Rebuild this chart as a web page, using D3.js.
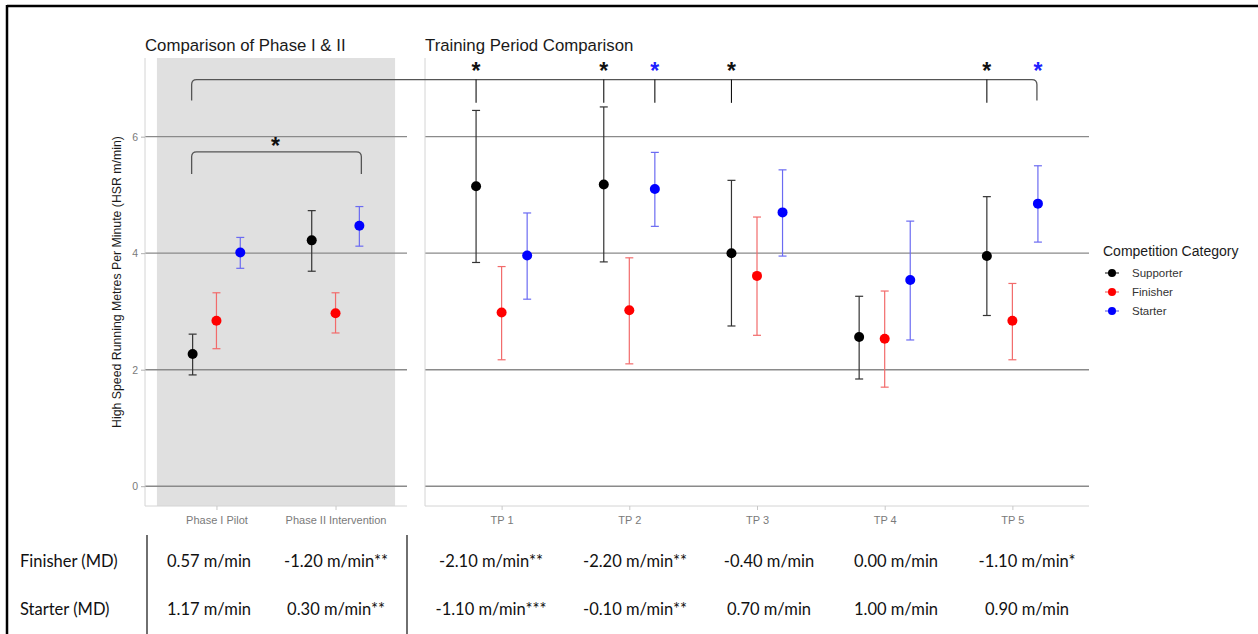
<!DOCTYPE html>
<html>
<head>
<meta charset="utf-8">
<script src="https://cdn.jsdelivr.net/npm/d3@7"></script>
<style>
html,body{margin:0;padding:0;background:#fff;}
svg{display:block;}
</style>
</head>
<body>
<svg id="chart" width="1258" height="634"></svg>
<script>
// ---------- DATA ----------
const phaseCats = ["Phase I Pilot", "Phase II Intervention"];
const tpCats = ["TP 1", "TP 2", "TP 3", "TP 4", "TP 5"];
const seriesNames = ["Supporter", "Finisher", "Starter"];
const seriesColors = ["#000000", "#ff0000", "#0000ff"];
const barColors = ["#333333", "#f26b6b", "#6b6bf2"];

// values over [Phase I, Phase II, TP1..TP5]
const supporterMean = [2.27, 4.22, 5.15, 5.18, 4.00, 2.56, 3.95];
const supporterLow  = [1.91, 3.69, 3.84, 3.85, 2.75, 1.84, 2.93];
const supporterHigh = [2.61, 4.73, 6.45, 6.51, 5.25, 3.26, 4.97];
const finisherMean  = [2.84, 2.97, 2.98, 3.02, 3.61, 2.53, 2.84];
const finisherLow   = [2.36, 2.63, 2.17, 2.10, 2.59, 1.70, 2.17];
const finisherHigh  = [3.32, 3.32, 3.77, 3.92, 4.62, 3.35, 3.48];
const starterMean   = [4.01, 4.47, 3.96, 5.10, 4.70, 3.54, 4.85];
const starterLow    = [3.74, 4.12, 3.21, 4.46, 3.95, 2.51, 4.19];
const starterHigh   = [4.27, 4.80, 4.69, 5.73, 5.43, 4.55, 5.50];

const yTicks = [0, 2, 4, 6];

// significance marks in the training-period panel: [category, series]
const sigMarks = [["TP 1", "Supporter"], ["TP 2", "Supporter"], ["TP 2", "Starter"],
                  ["TP 3", "Supporter"], ["TP 5", "Supporter"], ["TP 5", "Starter"]];

// table below the chart
const tableRows = ["Finisher (MD)", "Starter (MD)"];
const finisherMD = ["0.57 m/min", "-1.20 m/min**", "-2.10 m/min**", "-2.20 m/min**", "-0.40 m/min", "0.00 m/min", "-1.10 m/min*"];
const starterMD  = ["1.17 m/min", "0.30 m/min**", "-1.10 m/min***", "-0.10 m/min**", "0.70 m/min", "1.00 m/min", "0.90 m/min"];

// ---------- DRAW ----------
const svg = d3.select("#chart");
const font = "'Liberation Sans', Arial, sans-serif";

// frame
svg.append("line").attr("x1", 7).attr("x2", 1258).attr("y1", 6).attr("y2", 6).attr("stroke", "#000").attr("stroke-width", 2.5);
svg.append("line").attr("x1", 7).attr("x2", 7).attr("y1", 5).attr("y2", 634).attr("stroke", "#000").attr("stroke-width", 2.5);

const panelTop = 58, panelBottom = 506;
const y = d3.scaleLinear().domain([-0.34, 7.35]).range([panelBottom, panelTop]);

const xL = d3.scalePoint().domain(phaseCats).range([145, 407]).padding(0.6);
const xR = d3.scalePoint().domain(tpCats).range([425, 1089]).padding(0.6);
const dodgeL = xL.step() * 0.2, dodgeR = xR.step() * 0.2;

const allMeans = [supporterMean, finisherMean, starterMean];
const allLows = [supporterLow, finisherLow, starterLow];
const allHighs = [supporterHigh, finisherHigh, starterHigh];

function panel(x, cats, offset, dodge, shaded, title, showYLabels) {
  const [x0, x1] = x.range();
  const g = svg.append("g");
  if (shaded) {
    g.append("rect")
      .attr("x", x(cats[0]) - x.step() / 2)
      .attr("width", x(cats[cats.length - 1]) - x(cats[0]) + x.step())
      .attr("y", panelTop).attr("height", panelBottom - panelTop)
      .attr("fill", "#e0e0e0");
  }
  // gridlines
  g.selectAll(".grid").data(yTicks).join("line")
    .attr("x1", x0).attr("x2", x1)
    .attr("y1", d => y(d)).attr("y2", d => y(d))
    .attr("stroke", "#8a8a8a").attr("stroke-width", 1.4);
  // axes
  const ya = g.append("g").attr("transform", `translate(${x0},0)`)
    .call(d3.axisLeft(y).tickValues(yTicks).tickSize(showYLabels ? 4 : 0).tickPadding(3)
      .tickFormat(showYLabels ? d3.format("d") : () => ""));
  ya.select(".domain").attr("stroke", "#d4d4d4").attr("d", `M0,${panelTop}V${panelBottom}`);
  ya.selectAll(".tick line").attr("stroke", "#b0b0b0");
  ya.selectAll(".tick text").attr("fill", "#7a7a7a").style("font", `10.5px ${font}`);
  const xa = g.append("g").attr("transform", `translate(0,${panelBottom})`)
    .call(d3.axisBottom(x).tickSize(4).tickPadding(6));
  xa.select(".domain").attr("stroke", "#d4d4d4").attr("d", `M${x0},0H${x1}`);
  xa.selectAll(".tick line").attr("stroke", "#c8c8c8");
  xa.selectAll(".tick text").attr("fill", "#7a7a7a").style("font", `11px ${font}`);
  // title
  g.append("text").attr("x", x0).attr("y", 51).text(title)
    .style("font", `16.8px ${font}`).attr("fill", "#1a1a1a");
  // error bars and points
  seriesNames.forEach((s, si) => {
    const pts = cats.map((c, ci) => ({
      cx: x(c) + (si - 1) * dodge,
      m: allMeans[si][ci + offset], lo: allLows[si][ci + offset], hi: allHighs[si][ci + offset]
    }));
    const eg = g.append("g").attr("stroke", barColors[si]).attr("stroke-width", 1.2);
    eg.selectAll(".v").data(pts).join("line")
      .attr("x1", d => d.cx).attr("x2", d => d.cx)
      .attr("y1", d => y(d.lo)).attr("y2", d => y(d.hi));
    eg.selectAll(".t").data(pts).join("line")
      .attr("x1", d => d.cx - 4).attr("x2", d => d.cx + 4)
      .attr("y1", d => y(d.hi)).attr("y2", d => y(d.hi));
    eg.selectAll(".b").data(pts).join("line")
      .attr("x1", d => d.cx - 4).attr("x2", d => d.cx + 4)
      .attr("y1", d => y(d.lo)).attr("y2", d => y(d.lo));
    g.selectAll(".p" + si).data(pts).join("circle")
      .attr("cx", d => d.cx).attr("cy", d => y(d.m)).attr("r", 5)
      .attr("fill", seriesColors[si]);
  });
}

panel(xL, phaseCats, 0, dodgeL, true, "Comparison of Phase I & II", true);
panel(xR, tpCats, 2, dodgeR, false, "Training Period Comparison", false);

// y-axis label
svg.append("text")
  .attr("transform", `translate(121,${(panelTop + panelBottom) / 2}) rotate(-90)`)
  .attr("text-anchor", "middle")
  .text("High Speed Running Metres Per Minute (HSR m/min)")
  .style("font", `12.3px ${font}`).attr("fill", "#1a1a1a");

// brackets
function bracket(xa, xb, yTop, yEnd, r) {
  const p = d3.path();
  p.moveTo(xa, y(yEnd));
  p.lineTo(xa, y(yTop) + r);
  p.quadraticCurveTo(xa, y(yTop), xa + r, y(yTop));
  p.lineTo(xb - r, y(yTop));
  p.quadraticCurveTo(xb, y(yTop), xb, y(yTop) + r);
  p.lineTo(xb, y(yEnd));
  svg.append("path").attr("d", p.toString()).attr("fill", "none")
    .attr("stroke", "#555").attr("stroke-width", 1.3);
}
const leftEnd = xL(phaseCats[0]) - dodgeL - 1;
bracket(leftEnd, xR(tpCats[4]) + dodgeR - 1, 6.98, 6.62, 5);
bracket(leftEnd, xL(phaseCats[1]) + dodgeL + 2, 5.74, 5.36, 5);
svg.append("text").attr("x", (leftEnd + xL(phaseCats[1]) + dodgeL) / 2).attr("y", y(5.93) + 13)
  .attr("text-anchor", "middle").text("*").style("font", `bold 23px ${font}`).attr("fill", "#111");

// significance ticks and stars
sigMarks.forEach(([c, s]) => {
  const si = seriesNames.indexOf(s);
  const cx = xR(c) + (si - 1) * dodgeR;
  if (!(c === "TP 5" && s === "Starter")) {
    svg.append("line").attr("x1", cx).attr("x2", cx).attr("y1", y(6.98)).attr("y2", y(6.58))
      .attr("stroke", "#111").attr("stroke-width", 1.1);
  }
  svg.append("text").attr("x", cx).attr("y", y(7.22) + 13).attr("text-anchor", "middle")
    .text("*").style("font", `bold 23px ${font}`).attr("fill", si === 2 ? "#2020ff" : "#111");
});

// legend
const lg = svg.append("g").attr("transform", "translate(1103,0)");
lg.append("text").attr("x", 0).attr("y", 256).text("Competition Category")
  .style("font", `14px ${font}`).attr("fill", "#1a1a1a");
seriesNames.forEach((s, i) => {
  const yy = 273 + i * 19;
  lg.append("line").attr("x1", 2).attr("x2", 16).attr("y1", yy).attr("y2", yy)
    .attr("stroke", barColors[i]).attr("stroke-width", 1.2);
  lg.append("circle").attr("cx", 9).attr("cy", yy).attr("r", 4).attr("fill", seriesColors[i]);
  lg.append("text").attr("x", 29).attr("y", yy + 4).text(s)
    .style("font", `11.5px ${font}`).attr("fill", "#333");
});

// table
const tfont = "Lato, 'Open Sans', sans-serif";
const colCenters = [209, 336, 491, 635, 769, 896, 1027];
const rowY = [561, 609];
[finisherMD, starterMD].forEach((row, ri) => {
  svg.append("text").attr("x", 20).attr("y", rowY[ri] + 6).text(tableRows[ri])
    .style("font", `16.5px ${tfont}`).attr("fill", "#111");
  row.forEach((v, ci) => {
    svg.append("text").attr("x", colCenters[ci]).attr("y", rowY[ri] + 6).attr("text-anchor", "middle")
      .text(v).style("font", `16.5px ${tfont}`).attr("fill", "#111");
  });
});
[147, 407].forEach(xx => {
  svg.append("line").attr("x1", xx).attr("x2", xx).attr("y1", 535).attr("y2", 634)
    .attr("stroke", "#222").attr("stroke-width", 1.3);
});
</script>
</body>
</html>
